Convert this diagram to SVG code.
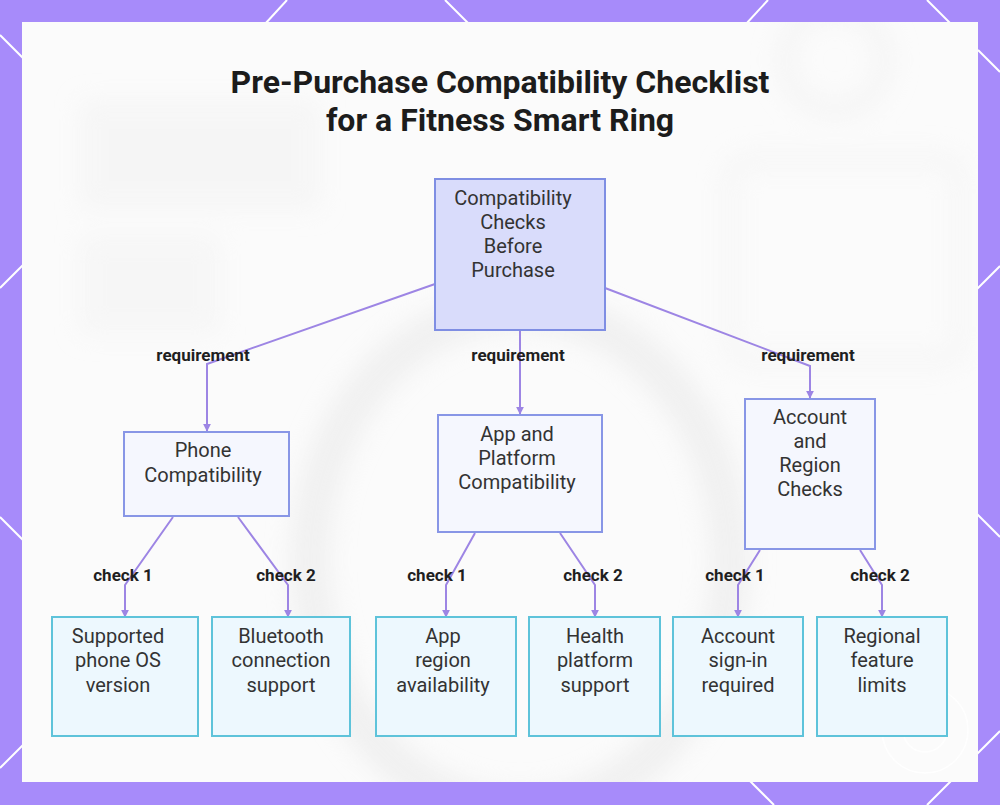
<svg xmlns="http://www.w3.org/2000/svg" width="1000" height="805" viewBox="0 0 1000 805">
<defs>
<style>
.title{font-family:Roboto,"Liberation Sans",sans-serif;font-weight:700;font-size:32px;fill:#1c1c1c;text-anchor:middle}
.nt{font-family:Roboto,"Liberation Sans",sans-serif;font-size:20px;fill:#333333;text-anchor:middle}
.lbl{font-family:Roboto,"Liberation Sans",sans-serif;font-weight:700;font-size:17px;fill:#1f1f1f;text-anchor:middle}
.root{fill:#d9dcfb;stroke:#7f8ee3;stroke-width:2}
.mid{fill:#f5f7fe;stroke:#8896e6;stroke-width:2}
.leaf{fill:#edf8fe;stroke:#5ec3da;stroke-width:2}
.edge{fill:none;stroke:#9d85e4;stroke-width:2;marker-end:url(#arr)}
.deco{stroke:#ffffff;stroke-width:2}
</style>
<marker id="arr" viewBox="0 0 10 10" refX="9" refY="5" markerWidth="4" markerHeight="4" orient="auto">
<path d="M0,0 L10,5 L0,10 z" fill="#9d85e4"/>
</marker>
<filter id="blur" x="-20%" y="-20%" width="140%" height="140%"><feGaussianBlur stdDeviation="12"/></filter>
<clipPath id="panel"><rect x="22" y="22" width="956" height="760"/></clipPath>
</defs>
<rect x="0" y="0" width="1000" height="805" fill="#a78bfa"/>
<g id="border-lines">
<line class="deco" x1="0" y1="35" x2="24" y2="59"/>
<line class="deco" x1="0" y1="288" x2="24" y2="264"/>
<line class="deco" x1="0" y1="517" x2="24" y2="541"/>
<line class="deco" x1="0" y1="768" x2="24" y2="744"/>
<line class="deco" x1="978" y1="50" x2="1000" y2="72"/>
<line class="deco" x1="976" y1="290" x2="1000" y2="266"/>
<line class="deco" x1="976" y1="513" x2="1000" y2="537"/>
<line class="deco" x1="976" y1="755" x2="1000" y2="731"/>
<line class="deco" x1="287" y1="0" x2="265" y2="24"/>
<line class="deco" x1="445" y1="0" x2="469" y2="24"/>
<line class="deco" x1="768" y1="0" x2="746" y2="24"/>
<line class="deco" x1="927" y1="0" x2="951" y2="24"/>
<line class="deco" x1="750" y1="781" x2="774" y2="805"/>
<line class="deco" x1="951" y1="781" x2="927" y2="805"/>
</g>
<rect x="22" y="22" width="956" height="760" fill="#fbfbfb"/>
<g clip-path="url(#panel)">
<g id="background" filter="url(#blur)" opacity="0.5">
<ellipse cx="520" cy="560" rx="210" ry="250" fill="none" stroke="#e6e6e6" stroke-width="40"/>
<circle cx="835" cy="60" r="50" fill="none" stroke="#eeeeee" stroke-width="18"/>
<rect x="730" y="160" width="230" height="200" rx="20" fill="none" stroke="#f0f0f0" stroke-width="16"/>
<rect x="80" y="100" width="240" height="110" fill="#f1f1f1"/>
<rect x="80" y="235" width="140" height="100" fill="#f2f2f2"/>
</g>
</g>
<g id="watermark" fill="none" stroke="#ffffff" stroke-width="1.5" opacity="0.9">
<circle cx="925" cy="730" r="43"/>
<circle cx="925" cy="730" r="22"/>
</g>
<g id="title">
<text class="title" x="500" y="93">Pre-Purchase Compatibility Checklist</text>
<text class="title" x="500" y="131">for a Fitness Smart Ring</text>
</g>
<g id="connectors">
<path class="edge" d="M435,284 L207,364 L207,431"/>
<path class="edge" d="M520,331 L520,414"/>
<path class="edge" d="M605,288 L810,366 L810,398"/>
<path class="edge" d="M173,517 L125,585 L125,617"/>
<path class="edge" d="M238,517 L288,585 L288,617"/>
<path class="edge" d="M475,533 L446,585 L446,617"/>
<path class="edge" d="M560,533 L595,585 L595,617"/>
<path class="edge" d="M760,550 L738,585 L738,617"/>
<path class="edge" d="M860,550 L882,585 L882,617"/>
<text class="lbl" x="203" y="361">requirement</text>
<text class="lbl" x="518" y="361">requirement</text>
<text class="lbl" x="808" y="361">requirement</text>
<text class="lbl" x="123" y="581">check 1</text>
<text class="lbl" x="286" y="581">check 2</text>
<text class="lbl" x="437" y="581">check 1</text>
<text class="lbl" x="593" y="581">check 2</text>
<text class="lbl" x="735" y="581">check 1</text>
<text class="lbl" x="880" y="581">check 2</text>
</g>
<g id="root">
<rect class="root" x="435" y="179" width="170" height="151"/>
<text class="nt" x="513" y="205">Compatibility</text>
<text class="nt" x="513" y="229">Checks</text>
<text class="nt" x="513" y="253">Before</text>
<text class="nt" x="513" y="277">Purchase</text>
</g>
<g id="phone">
<rect class="mid" x="124" y="432" width="165" height="84"/>
<text class="nt" x="203" y="457">Phone</text>
<text class="nt" x="203" y="482">Compatibility</text>
</g>
<g id="app">
<rect class="mid" x="438" y="415" width="164" height="117"/>
<text class="nt" x="517" y="441">App and</text>
<text class="nt" x="517" y="465">Platform</text>
<text class="nt" x="517" y="489">Compatibility</text>
</g>
<g id="account">
<rect class="mid" x="745" y="399" width="130" height="150"/>
<text class="nt" x="810" y="424">Account</text>
<text class="nt" x="810" y="448">and</text>
<text class="nt" x="810" y="472">Region</text>
<text class="nt" x="810" y="496">Checks</text>
</g>
<g id="leaf-os">
<rect class="leaf" x="52" y="617" width="146" height="119"/>
<text class="nt" x="118" y="643">Supported</text>
<text class="nt" x="118" y="667">phone OS</text>
<text class="nt" x="118" y="692">version</text>
</g>
<g id="leaf-bt">
<rect class="leaf" x="212" y="617" width="138" height="119"/>
<text class="nt" x="281" y="643">Bluetooth</text>
<text class="nt" x="281" y="667">connection</text>
<text class="nt" x="281" y="692">support</text>
</g>
<g id="leaf-region">
<rect class="leaf" x="376" y="617" width="140" height="119"/>
<text class="nt" x="443" y="643">App</text>
<text class="nt" x="443" y="667">region</text>
<text class="nt" x="443" y="692">availability</text>
</g>
<g id="leaf-health">
<rect class="leaf" x="529" y="617" width="131" height="119"/>
<text class="nt" x="595" y="643">Health</text>
<text class="nt" x="595" y="667">platform</text>
<text class="nt" x="595" y="692">support</text>
</g>
<g id="leaf-signin">
<rect class="leaf" x="673" y="617" width="130" height="119"/>
<text class="nt" x="738" y="643">Account</text>
<text class="nt" x="738" y="667">sign-in</text>
<text class="nt" x="738" y="692">required</text>
</g>
<g id="leaf-limits">
<rect class="leaf" x="817" y="617" width="130" height="119"/>
<text class="nt" x="882" y="643">Regional</text>
<text class="nt" x="882" y="667">feature</text>
<text class="nt" x="882" y="692">limits</text>
</g>
</svg>
